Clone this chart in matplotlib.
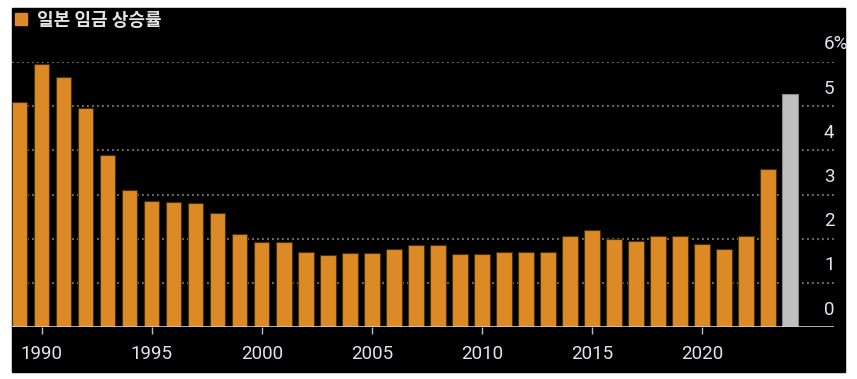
import matplotlib
matplotlib.use('Agg')
import matplotlib.pyplot as plt
from matplotlib.patches import Rectangle

# Rengo shunto wage increase (%)
years = list(range(1989, 2025))
wageRise = [5.10, 5.95, 5.66, 4.97, 3.90, 3.11, 2.86, 2.84, 2.82, 2.59,
            2.10, 1.94, 1.92, 1.71, 1.63, 1.69, 1.68, 1.78, 1.85, 1.87,
            1.66, 1.66, 1.71, 1.71, 1.70, 2.07, 2.20, 1.99, 1.96, 2.06,
            2.06, 1.89, 1.77, 2.06, 3.57, 5.27]
legendText = '일본 임금 상승률'
xTicks = [1990, 1995, 2000, 2005, 2010, 2015, 2020]
yTicks = [0, 1, 2, 3, 4, 5, 6]

ORANGE = '#dc8a25'
GREY = '#c0c0c0'
TEXT = '#dfe6ee'


def plotBar():
    W, H = 857, 379
    fig = plt.figure(figsize=(W / 100, H / 100), dpi=100, facecolor='white')
    # black panel
    fig.patches.append(Rectangle((12 / W, 7.3 / H), 833 / W, 363.7 / H,
                                 transform=fig.transFigure, color='black', zorder=0))
    ax = fig.add_axes([12 / W, 51.7 / H, 822 / W, 265.3 / H])
    ax.set_zorder(2)
    ax.patch.set_alpha(0)

    colors = [ORANGE] * (len(years) - 1) + [GREY]
    edges = ['#4a2f0c'] * (len(years) - 1) + ['#8a8a8a']
    ax.bar(years, wageRise, width=0.7, color=colors, edgecolor=edges, linewidth=0.8, zorder=3)

    # dotted grid
    for v in yTicks[1:]:
        ax.axhline(v, color='#6a6a6a', lw=1.5, ls=(0, (0.9, 1.5)), zorder=1)
    ax.axhline(0, color='#cfcfcf', lw=1.2, zorder=4)

    ax.set_xlim(1988.65, 2026.0)
    ax.set_ylim(0, 6)
    for s in ax.spines.values():
        s.set_visible(False)
    ax.set_yticks([])
    ax.set_xticks(xTicks)
    ax.set_xticklabels([str(x) for x in xTicks], family='Roboto', fontsize=13.5, color=TEXT)
    ax.tick_params(axis='x', length=5, width=1, color='#bdbdbd', pad=8)

    for v in yTicks:
        label = str(v) + ('%' if v == yTicks[-1] else '')
        ax.text(0.9878, v + 0.40, label, transform=ax.get_yaxis_transform(),
                ha='left', va='center', family='Roboto', fontsize=13.5, color=TEXT)

    # legend
    fig.patches.append(Rectangle((15 / W, (H - 25) / H), 12 / W, 12.5 / H,
                                 transform=fig.transFigure, color=ORANGE, zorder=2))
    fig.text(37 / W, (H - 20.8) / H, legendText, family=['Noto Sans CJK KR', 'DejaVu Sans'],
             fontsize=13, fontweight='bold', color='#e4e4e4', va='center', ha='left')

    fig.savefig('out.png', dpi=100, facecolor='white')


def main():
    plotBar()


if __name__ == '__main__':
    main()
